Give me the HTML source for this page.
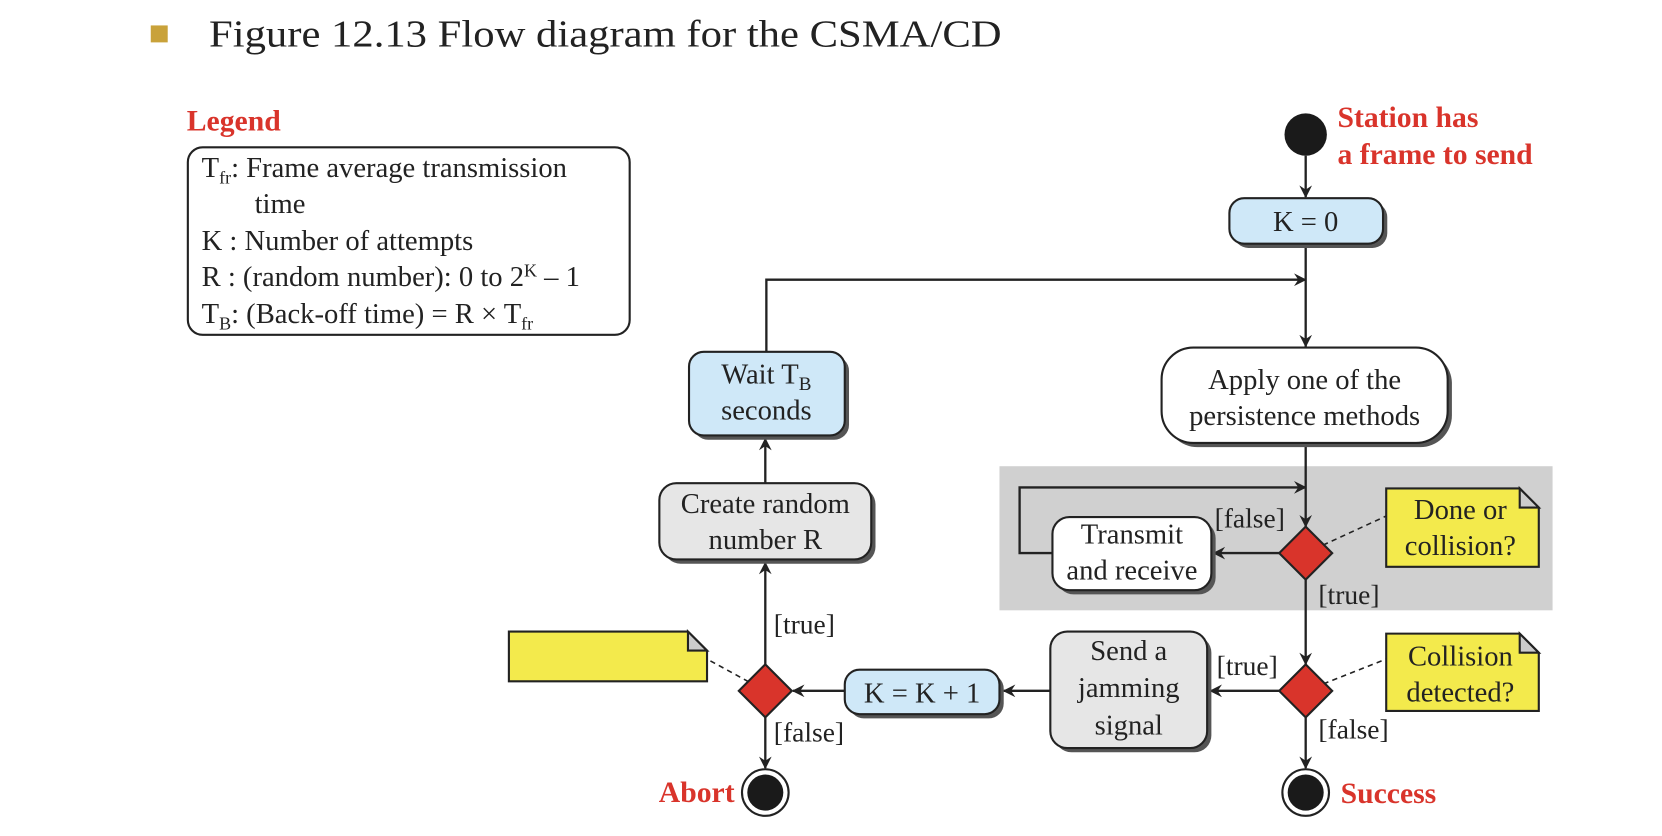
<!DOCTYPE html>
<html><head><meta charset="utf-8"><style>
html,body{margin:0;padding:0;background:#fff;}
svg{display:block;}
text{font-family:"Liberation Serif",serif;fill:#222;}
.r{fill:#d9342b;font-weight:bold;font-size:28px;}
.n{font-size:27px;text-anchor:middle;}
.l{font-size:27px;}
.g{font-size:26px;}
</style></head><body>
<svg width="1662" height="836" viewBox="0 0 1568 789" xmlns="http://www.w3.org/2000/svg">
<defs>
<marker id="a" markerWidth="12" markerHeight="12" refX="11" refY="6" orient="auto" markerUnits="userSpaceOnUse">
<path d="M0,0 L12,6 L0,12 L4,6 Z" fill="#222"/></marker>
</defs>
<rect x="142" y="24" width="16" height="16" fill="#c9a23a"/>
<text x="197" y="44" style="font-size:36px" textLength="748" lengthAdjust="spacingAndGlyphs">Figure 12.13  Flow diagram for the CSMA/CD</text>

<text x="176" y="123" class="r">Legend</text>
<rect x="177" y="139" width="417" height="177" rx="14" fill="#fff" stroke="#222" stroke-width="2"/>
<text x="190" y="167" class="l">T<tspan dy="6" font-size="17">fr</tspan><tspan dy="-6">: Frame average transmission</tspan></text>
<text x="240" y="201" class="l">time</text>
<text x="190" y="236" class="l">K  : Number of attempts</text>
<text x="190" y="270" class="l">R  : (random number): 0 to 2<tspan dy="-9" font-size="17">K</tspan><tspan dy="9"> – 1</tspan></text>
<text x="190" y="305" class="l">T<tspan dy="6" font-size="17">B</tspan><tspan dy="-6">: (Back-off time) = R × T</tspan><tspan dy="6" font-size="17">fr</tspan></text>

<rect x="943" y="440" width="522" height="136" fill="#d0d0d0"/>

<g stroke="#222" stroke-width="2.2" fill="none">
<line x1="1232" y1="147" x2="1232" y2="186" marker-end="url(#a)"/>
<line x1="1232" y1="230" x2="1232" y2="327" marker-end="url(#a)"/>
<polyline points="723,332 723,264 1232,264" marker-end="url(#a)"/>
<line x1="1232" y1="418" x2="1232" y2="497" marker-end="url(#a)"/>
<line x1="1207" y1="522" x2="1145" y2="522" marker-end="url(#a)"/>
<polyline points="993,522 962,522 962,460 1232,460" marker-end="url(#a)"/>
<line x1="1232" y1="547" x2="1232" y2="627" marker-end="url(#a)"/>
<line x1="1207" y1="652" x2="1142" y2="652" marker-end="url(#a)"/>
<line x1="1232" y1="677" x2="1232" y2="725" marker-end="url(#a)"/>
<line x1="991" y1="652" x2="947" y2="652" marker-end="url(#a)"/>
<line x1="797" y1="652" x2="748" y2="652" marker-end="url(#a)"/>
<line x1="722" y1="627" x2="722" y2="531" marker-end="url(#a)"/>
<line x1="722" y1="456" x2="722" y2="414" marker-end="url(#a)"/>
<line x1="722" y1="677" x2="722" y2="725" marker-end="url(#a)"/>
</g>
<g stroke="#222" stroke-width="1.5" stroke-dasharray="5,4">
<line x1="1232" y1="522" x2="1308" y2="487"/>
<line x1="1232" y1="652" x2="1308" y2="622"/>
<line x1="722" y1="652" x2="667" y2="622"/>
</g>

<circle cx="1232" cy="127" r="20" fill="#1a1a1a"/>
<text x="1262" y="120" class="r">Station has</text>
<text x="1262" y="155" class="r">a frame to send</text>

<g stroke="#222" stroke-width="2">
<rect x="1164" y="191" width="145" height="43" rx="14" fill="#555" stroke="none"/>
<rect x="1160" y="187" width="145" height="43" rx="14" fill="#cfe8f8"/>
<rect x="654" y="336" width="147" height="79" rx="14" fill="#555" stroke="none"/>
<rect x="650" y="332" width="147" height="79" rx="14" fill="#cfe8f8"/>
<rect x="1100" y="332" width="270" height="90" rx="30" fill="#555" stroke="none"/>
<rect x="1096" y="328" width="270" height="90" rx="30" fill="#fff"/>
<rect x="997" y="492" width="150" height="69" rx="16" fill="#555" stroke="none"/>
<rect x="993" y="488" width="150" height="69" rx="16" fill="#fff"/>
<rect x="995" y="600" width="148" height="110" rx="16" fill="#555" stroke="none"/>
<rect x="991" y="596" width="148" height="110" rx="16" fill="#e6e6e6"/>
<rect x="801" y="636" width="146" height="42" rx="14" fill="#555" stroke="none"/>
<rect x="797" y="632" width="146" height="42" rx="14" fill="#cfe8f8"/>
<rect x="626" y="460" width="200" height="72" rx="16" fill="#555" stroke="none"/>
<rect x="622" y="456" width="200" height="72" rx="16" fill="#e6e6e6"/>
<path d="M1232,497 L1257,522 L1232,547 L1207,522 Z" fill="#d9342b"/>
<path d="M1232,627 L1257,652 L1232,677 L1207,652 Z" fill="#d9342b"/>
<path d="M722,627 L747,652 L722,677 L697,652 Z" fill="#d9342b"/>
<path d="M1308,461 L1434,461 L1452,479 L1452,535 L1308,535 Z" fill="#f3ea4c"/>
<path d="M1434,461 L1434,479 L1452,479 Z" fill="#ccc"/>
<path d="M1308,598 L1434,598 L1452,616 L1452,671 L1308,671 Z" fill="#f3ea4c"/>
<path d="M1434,598 L1434,616 L1452,616 Z" fill="#ccc"/>
<path d="M480,596 L649,596 L667,614 L667,643 L480,643 Z" fill="#f3ea4c"/>
<path d="M649,596 L649,614 L667,614 Z" fill="#ccc"/>
<circle cx="1232" cy="748" r="22" fill="#fff"/>
<circle cx="722" cy="748" r="22" fill="#fff"/>
</g>
<circle cx="1232" cy="748" r="17" fill="#1a1a1a"/>
<circle cx="722" cy="748" r="17" fill="#1a1a1a"/>

<text x="1232" y="218" class="n">K = 0</text>
<text x="723" y="362" class="n">Wait T<tspan dy="6" font-size="18">B</tspan></text>
<text x="723" y="396" class="n">seconds</text>
<text x="1231" y="367" class="n">Apply one of the</text>
<text x="1231" y="401" class="n">persistence methods</text>
<text x="1068" y="513" class="n">Transmit</text>
<text x="1068" y="547" class="n">and receive</text>
<text x="1065" y="623" class="n">Send a</text>
<text x="1065" y="658" class="n">jamming</text>
<text x="1065" y="693" class="n">signal</text>
<text x="870" y="663" class="n">K = K + 1</text>
<text x="722" y="484" class="n">Create random</text>
<text x="722" y="518" class="n">number R</text>
<text x="1378" y="490" class="n">Done or</text>
<text x="1378" y="524" class="n">collision?</text>
<text x="1378" y="628" class="n">Collision</text>
<text x="1378" y="662" class="n">detected?</text>
<text x="1146" y="498" class="g">[false]</text>
<text x="1244" y="570" class="g">[true]</text>
<text x="1148" y="637" class="g">[true]</text>
<text x="1244" y="697" class="g">[false]</text>
<text x="730" y="598" class="g">[true]</text>
<text x="730" y="700" class="g">[false]</text>
<text x="1265" y="758" class="r">Success</text>
<text x="693" y="757" class="r" text-anchor="end">Abort</text>
</svg>
</body></html>
